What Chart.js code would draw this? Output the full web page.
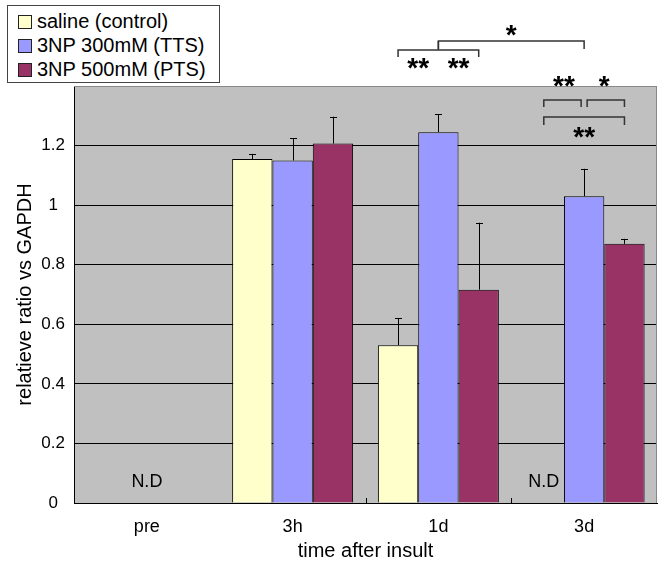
<!DOCTYPE html>
<html>
<head>
<meta charset="utf-8">
<script src="https://cdn.jsdelivr.net/npm/chart.js@4.4.1/dist/chart.umd.min.js"></script>
<style>
  body { margin: 0; background: #fff; }
  #wrap { position: relative; width: 664px; height: 566px; }
  #legend {
    position: absolute; left: 7px; top: 5px; width: 213px; height: 78px;
    box-sizing: border-box; border: 1px solid #444; background: #fff;
    padding: 3px 0 0 10px; font: 20px "Liberation Sans", Arial, sans-serif; color: #000;
  }
  #legend div { height: 24px; line-height: 24px; white-space: nowrap; }
  #legend span { display: inline-block; width: 12px; height: 12px; border: 1px solid #222;
    margin-right: 5px; vertical-align: -1px; }
</style>
</head>
<body>
<div id="wrap">
  <canvas id="c" width="664" height="566"></canvas>
  <div id="legend"></div>
</div>
<script>
const categories = ['pre', '3h', '1d', '3d'];
const salineMean = [null, 1.155, 0.53, null];
const salineErr  = [null, 0.017, 0.09, null];
const ttsMean = [null, 1.15, 1.245, 1.03];
const ttsErr  = [null, 0.075, 0.06, 0.092];
const ptsMean = [null, 1.207, 0.716, 0.87];
const ptsErr  = [null, 0.09, 0.225, 0.017];
// not detected: category index, series index (null = whole group)
const notDetected = [[0, null], [3, 0]];
// significance marks
const sig1d = ['**', '**'];      // saline vs TTS, TTS vs PTS at 1d
const sigAcross = '*';           // TTS 1d vs TTS 3d
const sig3d = ['**', '*', '**']; // saline vs TTS, TTS vs PTS, saline vs PTS at 3d

const errs = [salineErr, ttsErr, ptsErr];
const FONT = '"Liberation Sans", Arial, sans-serif';

const plotBg = {
  id: 'plotBg',
  beforeDraw(chart) {
    const {ctx, chartArea: a} = chart;
    ctx.save();
    ctx.fillStyle = '#c0c0c0';
    ctx.fillRect(a.left, a.top, a.right - a.left, a.bottom - a.top);
    ctx.restore();
  },
  afterDraw(chart) {
    const {ctx, chartArea: a} = chart;
    ctx.save();
    ctx.strokeStyle = '#888';
    ctx.lineWidth = 1;
    ctx.beginPath();
    ctx.moveTo(a.left, a.top + 0.5); ctx.lineTo(a.right - 0.5, a.top + 0.5);
    ctx.lineTo(a.right - 0.5, a.bottom);
    ctx.stroke();
    ctx.restore();
  }
};

const errorBars = {
  id: 'errorBars',
  afterDatasetsDraw(chart) {
    const {ctx} = chart;
    const y = chart.scales.y;
    ctx.save();
    ctx.strokeStyle = '#000';
    ctx.lineWidth = 1;
    chart.data.datasets.forEach((ds, d) => {
      chart.getDatasetMeta(d).data.forEach((bar, i) => {
        const v = ds.data[i];
        if (v == null) return;
        const top = y.getPixelForValue(v + errs[d][i]);
        const x = Math.round(bar.x) + 0.5;
        ctx.beginPath();
        ctx.moveTo(x, bar.y); ctx.lineTo(x, top);
        ctx.moveTo(x - 3.5, Math.round(top) + 0.5); ctx.lineTo(x + 3.5, Math.round(top) + 0.5);
        ctx.stroke();
      });
    });
    ctx.restore();
  }
};

const annotations = {
  id: 'annotations',
  afterDraw(chart) {
    const {ctx, chartArea: a} = chart;
    const xs = chart.scales.x;
    const T = a.top;
    const bx = (cat, d) => chart.getDatasetMeta(d).data[cat].x;
    ctx.save();
    // tick marks between groups
    ctx.strokeStyle = '#000';
    ctx.lineWidth = 1;
    [1, 2].forEach(i => {
      const x = Math.round((xs.getPixelForValue(i) + xs.getPixelForValue(i + 1)) / 2) + 0.5;
      ctx.beginPath(); ctx.moveTo(x, a.bottom); ctx.lineTo(x, a.bottom - 5); ctx.stroke();
    });
    // N.D labels
    ctx.fillStyle = '#000';
    ctx.font = '18px ' + FONT;
    ctx.textAlign = 'center';
    ctx.textBaseline = 'middle';
    notDetected.forEach(([cat, d]) => {
      const x = d == null ? xs.getPixelForValue(cat) : bx(cat, d);
      ctx.fillText('N.D', x, a.bottom - 21);
    });
    // brackets
    ctx.strokeStyle = '#333';
    ctx.lineWidth = 1.5;
    const bracket = (x1, x2, yl, drop) => {
      ctx.beginPath();
      ctx.moveTo(x1, yl + drop); ctx.lineTo(x1, yl); ctx.lineTo(x2, yl); ctx.lineTo(x2, yl + drop);
      ctx.stroke();
    };
    const s0 = bx(2, 0), s1 = bx(2, 1), s2 = bx(2, 2);
    const t0 = bx(3, 0), t1 = bx(3, 1), t2 = bx(3, 2);
    bracket(s0, s2, T - 36, 7);
    bracket(s1, t1, T - 45, 8);
    ctx.beginPath(); ctx.moveTo(s1, T - 45); ctx.lineTo(s1, T - 36); ctx.stroke();
    bracket(t0, t1 - 3, T + 14, 7);
    bracket(t1 + 3, t2, T + 14, 7);
    bracket(t0, t2, T + 31, 8);
    // stars
    ctx.font = 'bold 28px ' + FONT;
    const star = (txt, x, y) => ctx.fillText(txt, x, y + 6);
    star(sigAcross, (s1 + t1) / 2, T - 56);
    star(sig1d[0], (s0 + s1) / 2, T - 23);
    star(sig1d[1], (s1 + s2) / 2, T - 23);
    star(sig3d[0], (t0 + t1) / 2, T - 5);
    star(sig3d[1], (t1 + t2) / 2, T - 5);
    star(sig3d[2], (t0 + t2) / 2, T + 46);
    ctx.restore();
  }
};

const chart = new Chart(document.getElementById('c'), {
  type: 'bar',
  data: {
    labels: categories,
    datasets: [{
      label: 'saline (control)',
      data: salineMean,
      backgroundColor: '#ffffcc'
    }, {
      label: '3NP 300mM (TTS)',
      data: ttsMean,
      backgroundColor: '#9999ff'
    }, {
      label: '3NP 500mM (PTS)',
      data: ptsMean,
      backgroundColor: '#993366'
    }]
  },
  options: {
    responsive: false,
    animation: false,
    layout: {padding: {top: 86, right: 7, left: 0, bottom: 0}},
    datasets: {bar: {borderColor: '#000', borderWidth: 1, barPercentage: 1, categoryPercentage: 0.83}},
    plugins: {legend: {display: false}, tooltip: {enabled: false}},
    scales: {
      x: {
        grid: {display: false},
        border: {color: '#000', width: 1},
        ticks: {color: '#000', font: {family: FONT, size: 18}, padding: 5},
        title: {display: true, text: 'time after insult', color: '#000',
          font: {family: FONT, size: 20}, padding: {top: 0, bottom: 3}},
        afterFit(s) { s.height = 63; }
      },
      y: {
        min: 0, max: 1.4,
        grid: {color: c => (c.tick && c.tick.value >= 1.39 ? '#888' : '#000'), drawTicks: false},
        border: {color: '#000', width: 1},
        ticks: {stepSize: 0.2, color: '#000', font: {family: FONT, size: 17}, padding: 9,
          crossAlign: 'center',
          callback: v => (v >= 1.39 ? '' : String(Math.round(v * 10) / 10))},
        title: {display: true, text: 'relatieve ratio vs GAPDH', color: '#000',
          font: {family: FONT, size: 20}, padding: {top: 13, bottom: 0}},
        afterFit(s) { s.width = 74; }
      }
    }
  },
  plugins: [plotBg, errorBars, annotations]
});

document.getElementById('legend').innerHTML = chart.data.datasets.map(ds =>
  '<div><span style="background:' + ds.backgroundColor + '"></span>' + ds.label + '</div>').join('');
</script>
</body>
</html>
